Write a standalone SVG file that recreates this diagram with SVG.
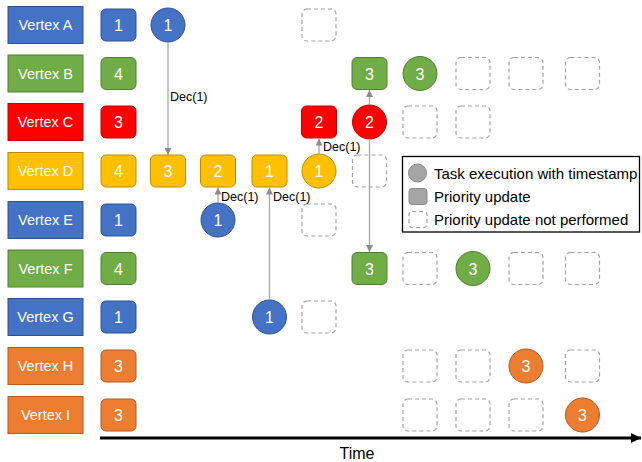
<svg xmlns="http://www.w3.org/2000/svg" width="642" height="462" viewBox="0 0 642 462">
  <style>
    text { font-family: "Liberation Sans", Arial, sans-serif; }
    .lbl { font-size: 14.5px; fill: #ffffff; text-anchor: middle; }
    .num { font-size: 16px; fill: #ffffff; text-anchor: middle; }
    .dec { font-size: 12.5px; fill: #000000; }
    .leg { font-size: 15px; fill: #000000; }
    .blue { fill: #4472C4; stroke: #2F528F; stroke-width: 1; }
    .green { fill: #70AD47; stroke: #507E32; stroke-width: 1; }
    .red { fill: #FF0000; stroke: #C00000; stroke-width: 1; }
    .yellow { fill: #FFC000; stroke: #BC8C00; stroke-width: 1; }
    .orange { fill: #ED7D31; stroke: #AE5A21; stroke-width: 1; }
    .grey { fill: #A5A5A5; stroke: #8A8A8A; stroke-width: 1; }
    .skip { fill: #ffffff; stroke: #A0A0A0; stroke-width: 1.2; stroke-dasharray: 4 3; }
    .link { stroke: #A6A6A6; stroke-width: 1.3; fill: none; marker-end: url(#tip); }
  </style>
  <defs>
    <marker id="tip" viewBox="0 0 8 8" refX="8" refY="4" markerWidth="7" markerHeight="7" markerUnits="userSpaceOnUse" orient="auto">
      <path d="M0,0 L8,4 L0,8 Z" fill="#8C8C8C"/>
    </marker>
    <marker id="timeTip" viewBox="0 0 10 10" refX="10" refY="5" markerWidth="10" markerHeight="10" markerUnits="userSpaceOnUse" orient="auto">
      <path d="M0,0 L10,5 L0,10 Z" fill="#000000"/>
    </marker>
  </defs>

  <!-- vertex labels -->
  <g id="vertex-a"><rect class="blue" x="8" y="6.5" width="75" height="37"/><text class="lbl" x="45.5" y="30">Vertex A</text></g>
  <g id="vertex-b"><rect class="green" x="8" y="55" width="75" height="37"/><text class="lbl" x="45.5" y="78.5">Vertex B</text></g>
  <g id="vertex-c"><rect class="red" x="8" y="103.5" width="75" height="37"/><text class="lbl" x="45.5" y="127">Vertex C</text></g>
  <g id="vertex-d"><rect class="yellow" x="8" y="152.5" width="75" height="37"/><text class="lbl" x="45.5" y="176">Vertex D</text></g>
  <g id="vertex-e"><rect class="blue" x="8" y="201.5" width="75" height="37"/><text class="lbl" x="45.5" y="225">Vertex E</text></g>
  <g id="vertex-f"><rect class="green" x="8" y="250" width="75" height="37"/><text class="lbl" x="45.5" y="273.5">Vertex F</text></g>
  <g id="vertex-g"><rect class="blue" x="8" y="298.5" width="75" height="37"/><text class="lbl" x="45.5" y="322">Vertex G</text></g>
  <g id="vertex-h"><rect class="orange" x="8" y="347.5" width="75" height="37"/><text class="lbl" x="45.5" y="371">Vertex H</text></g>
  <g id="vertex-i"><rect class="orange" x="8" y="396.5" width="75" height="37"/><text class="lbl" x="45.5" y="420">Vertex I</text></g>

  <!-- row A -->
  <g id="a-0"><rect class="blue" x="101" y="9" width="35" height="32" rx="5"/><text class="num" x="118.5" y="31">1</text></g>
  <g id="a-1"><circle class="blue" cx="168" cy="25" r="17"/><text class="num" x="168" y="31">1</text></g>
  <g id="a-4"><rect class="skip" x="302" y="9" width="34" height="32" rx="5"/></g>

  <!-- row B -->
  <g id="b-0"><rect class="green" x="101" y="57.5" width="35" height="32" rx="5"/><text class="num" x="118.5" y="79.5">4</text></g>
  <g id="b-5"><rect class="green" x="352" y="57.5" width="35" height="32" rx="5"/><text class="num" x="369.5" y="79.5">3</text></g>
  <g id="b-6"><circle class="green" cx="420" cy="73.5" r="17"/><text class="num" x="420" y="79.5">3</text></g>
  <g id="b-7"><rect class="skip" x="456" y="57.5" width="34" height="32" rx="5"/></g>
  <g id="b-8"><rect class="skip" x="509" y="57.5" width="34" height="32" rx="5"/></g>
  <g id="b-9"><rect class="skip" x="565.5" y="57.5" width="34" height="32" rx="5"/></g>

  <!-- row C -->
  <g id="c-0"><rect class="red" x="101" y="106" width="35" height="32" rx="5"/><text class="num" x="118.5" y="128">3</text></g>
  <g id="c-4"><rect class="red" x="301.5" y="106" width="35" height="32" rx="5"/><text class="num" x="319" y="128">2</text></g>
  <g id="c-5"><circle class="red" cx="369.5" cy="122" r="17"/><text class="num" x="369.5" y="128">2</text></g>
  <g id="c-6"><rect class="skip" x="403" y="106" width="34" height="32" rx="5"/></g>
  <g id="c-7"><rect class="skip" x="456" y="106" width="34" height="32" rx="5"/></g>

  <!-- row D -->
  <g id="d-0"><rect class="yellow" x="101" y="155" width="35" height="32" rx="5"/><text class="num" x="118.5" y="177">4</text></g>
  <g id="d-1"><rect class="yellow" x="150.5" y="155" width="35" height="32" rx="5"/><text class="num" x="168" y="177">3</text></g>
  <g id="d-2"><rect class="yellow" x="200.5" y="155" width="35" height="32" rx="5"/><text class="num" x="218" y="177">2</text></g>
  <g id="d-3"><rect class="yellow" x="252" y="155" width="35" height="32" rx="5"/><text class="num" x="269.5" y="177">1</text></g>
  <g id="d-4"><circle class="yellow" cx="319" cy="171" r="17"/><text class="num" x="319" y="177">1</text></g>
  <g id="d-5"><rect class="skip" x="352.5" y="155" width="34" height="32" rx="5"/></g>

  <!-- row E -->
  <g id="e-0"><rect class="blue" x="101" y="204" width="35" height="32" rx="5"/><text class="num" x="118.5" y="226">1</text></g>
  <g id="e-2"><circle class="blue" cx="218" cy="220" r="17"/><text class="num" x="218" y="226">1</text></g>
  <g id="e-4"><rect class="skip" x="302" y="204" width="34" height="32" rx="5"/></g>

  <!-- row F -->
  <g id="f-0"><rect class="green" x="101" y="252.5" width="35" height="32" rx="5"/><text class="num" x="118.5" y="274.5">4</text></g>
  <g id="f-5"><rect class="green" x="352" y="252.5" width="35" height="32" rx="5"/><text class="num" x="369.5" y="274.5">3</text></g>
  <g id="f-6"><rect class="skip" x="403" y="252.5" width="34" height="32" rx="5"/></g>
  <g id="f-7"><circle class="green" cx="473" cy="268.5" r="17"/><text class="num" x="473" y="274.5">3</text></g>
  <g id="f-8"><rect class="skip" x="509" y="252.5" width="34" height="32" rx="5"/></g>
  <g id="f-9"><rect class="skip" x="565.5" y="252.5" width="34" height="32" rx="5"/></g>

  <!-- row G -->
  <g id="g-0"><rect class="blue" x="101" y="301" width="35" height="32" rx="5"/><text class="num" x="118.5" y="323">1</text></g>
  <g id="g-3"><circle class="blue" cx="269.5" cy="317" r="17"/><text class="num" x="269.5" y="323">1</text></g>
  <g id="g-4"><rect class="skip" x="302" y="301" width="34" height="32" rx="5"/></g>

  <!-- row H -->
  <g id="h-0"><rect class="orange" x="101" y="350" width="35" height="32" rx="5"/><text class="num" x="118.5" y="372">3</text></g>
  <g id="h-6"><rect class="skip" x="403" y="350" width="34" height="32" rx="5"/></g>
  <g id="h-7"><rect class="skip" x="456" y="350" width="34" height="32" rx="5"/></g>
  <g id="h-8"><circle class="orange" cx="526" cy="366" r="17"/><text class="num" x="526" y="372">3</text></g>
  <g id="h-9"><rect class="skip" x="565.5" y="350" width="34" height="32" rx="5"/></g>

  <!-- row I -->
  <g id="i-0"><rect class="orange" x="101" y="399" width="35" height="32" rx="5"/><text class="num" x="118.5" y="421">3</text></g>
  <g id="i-6"><rect class="skip" x="403" y="399" width="34" height="32" rx="5"/></g>
  <g id="i-7"><rect class="skip" x="456" y="399" width="34" height="32" rx="5"/></g>
  <g id="i-8"><rect class="skip" x="509" y="399" width="34" height="32" rx="5"/></g>
  <g id="i-9"><circle class="orange" cx="582.5" cy="415" r="17"/><text class="num" x="582.5" y="421">3</text></g>

  <!-- connectors, drawn over the cells they cross -->
  <g id="connectors">
    <line class="link" x1="168" y1="42" x2="168" y2="155"/>
    <line class="link" x1="218" y1="203" x2="218" y2="187.5"/>
    <line class="link" x1="269.5" y1="300" x2="269.5" y2="187.5"/>
    <line class="link" x1="319" y1="154" x2="319" y2="138.5"/>
    <line class="link" x1="369.5" y1="105" x2="369.5" y2="90"/>
    <line class="link" x1="369.5" y1="139" x2="369.5" y2="252"/>
    <text class="dec" x="170" y="100.5">Dec(1)</text>
    <text class="dec" x="221" y="201">Dec(1)</text>
    <text class="dec" x="273" y="201">Dec(1)</text>
    <text class="dec" x="323" y="151">Dec(1)</text>
  </g>

  <!-- legend -->
  <g id="legend">
    <rect x="402.5" y="156.5" width="237" height="75.5" fill="#ffffff" stroke="#000000" stroke-width="1.3"/>
    <circle class="grey" cx="417.5" cy="173" r="9"/>
    <text class="leg" x="434" y="178.5">Task execution with timestamp</text>
    <rect class="grey" x="409" y="188.5" width="18" height="16" rx="3"/>
    <text class="leg" x="434" y="201.5">Priority update</text>
    <rect class="skip" x="409" y="211.5" width="18" height="16" rx="3"/>
    <text class="leg" x="434" y="224.5">Priority update not performed</text>
  </g>

  <!-- time axis -->
  <g id="time-axis">
    <line x1="100" y1="438" x2="641" y2="438" stroke="#000000" stroke-width="3" marker-end="url(#timeTip)"/>
    <text x="357" y="459" font-size="16px" text-anchor="middle" fill="#000000">Time</text>
  </g>
</svg>
